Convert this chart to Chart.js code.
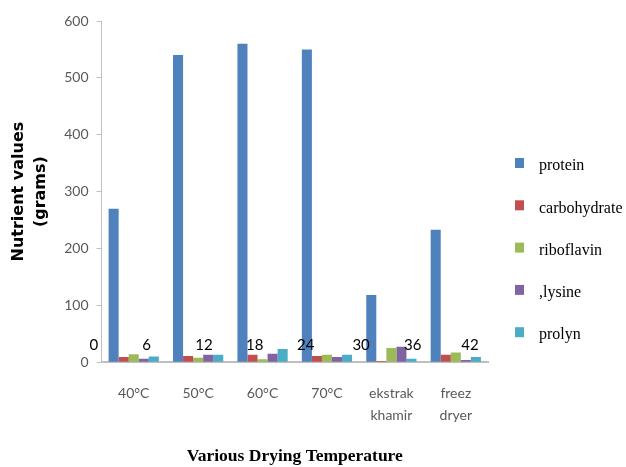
<!DOCTYPE html>
<html>
<head>
<meta charset="utf-8">
<script src="https://cdn.jsdelivr.net/npm/chart.js@4.4.1/dist/chart.umd.min.js"></script>
<style>
  html, body { margin: 0; padding: 0; background: #fff; }
  #wrap { width: 626px; height: 467px; }
</style>
</head>
<body>
<div id="wrap"><canvas id="nutrientChart" width="626" height="467"></canvas></div>
<script>
// categories and series
const categories = [['40°C'], ['50°C'], ['60°C'], ['70°C'], ['ekstrak', 'khamir'], ['freez', 'dryer']];
const protein = [270, 540, 560, 550, 118, 233];
const carbohydrate = [9, 11, 13, 11, 2, 13];
const riboflavin = [14, 8, 5, 13, 25, 17];
const lysine = [6, 13, 15, 9, 27, 4];
const prolyn = [10, 13, 23, 13, 6, 9];
const seriesNames = ['protein', 'carbohydrate', 'riboflavin', ',lysine', 'prolyn'];
const seriesColors = ['#4F81BD', '#C0504D', '#9BBB59', '#8064A2', '#4BACC6'];

// stray data labels floating over the bars (x in category units, y in grams)
const markerLabels = [0, 6, 12, 18, 24, 30, 36, 42];
const markerX = [-0.62, 0.20, 1.09, 1.88, 2.67, 3.53, 4.33, 5.22];
const markerLevel = 30;

const yMin = 0;
const yMax = 600;
const yStep = 100;

const tickColor = '#595959';
const axisColor = '#bfbfbf';

const barSets = [protein, carbohydrate, riboflavin, lysine, prolyn].map((values, i) => ({
  label: seriesNames[i],
  data: values,
  backgroundColor: seriesColors[i],
  borderWidth: 0,
}));

// the numbers are placed through the chart's own x and y scales
const markerText = {
  id: 'markerText',
  afterDatasetsDraw(chart) {
    const { x, y } = chart.scales;
    const ctx = chart.ctx;
    ctx.save();
    ctx.fillStyle = '#000';
    ctx.font = '15px Lato';
    ctx.textAlign = 'center';
    ctx.textBaseline = 'middle';
    markerLabels.forEach((v, i) => {
      ctx.fillText(String(v), x.getPixelForValue(markerX[i]), y.getPixelForValue(markerLevel));
    });
    ctx.restore();
  },
};

// legend drawn by hand so it can sit where the original put it
const sideLegend = {
  id: 'sideLegend',
  afterDraw(chart) {
    const ctx = chart.ctx;
    ctx.save();
    ctx.font = '16px "Liberation Serif"';
    ctx.textBaseline = 'middle';
    barSets.forEach((ds, i) => {
      const y = 163 + i * 42.3;
      ctx.fillStyle = ds.backgroundColor;
      ctx.fillRect(515, y - 5, 9, 10);
      ctx.fillStyle = '#000';
      ctx.fillText(ds.label, 539, y + 3);
    });
    ctx.restore();
  },
};

new Chart(document.getElementById('nutrientChart'), {
  type: 'bar',
  data: {
    labels: categories,
    datasets: barSets,
  },
  options: {
    responsive: false,
    animation: false,
    devicePixelRatio: 1,
    layout: { padding: { top: 21, left: 8, right: 138, bottom: 0 } },
    datasets: {
      bar: { categoryPercentage: 0.78, barPercentage: 1 },
    },
    plugins: {
      legend: { display: false },
      tooltip: { enabled: false },
    },
    scales: {
      x: {
        grid: { display: false },
        border: { display: true, color: axisColor, width: 2 },
        ticks: {
          color: tickColor,
          font: { family: 'Lato', size: 14, lineHeight: 1.6 },
          padding: 12,
          maxRotation: 0,
          autoSkip: false,
        },
        title: {
          display: true,
          text: 'Various Drying Temperature',
          color: '#000',
          font: { family: 'Liberation Serif', weight: 'bold', size: 17.5 },
          padding: { top: 7, bottom: 0 },
        },
      },
      y: {
        min: yMin,
        max: yMax,
        ticks: {
          stepSize: yStep,
          color: tickColor,
          font: { family: 'Lato', size: 14 },
          padding: 8,
        },
        grid: { drawOnChartArea: false, tickLength: 5, color: axisColor },
        border: { color: axisColor, width: 1 },
        title: {
          display: true,
          text: ['Nutrient values', '(grams)'],
          color: '#000',
          font: { family: 'DejaVu Sans', weight: 'bold', size: 16, lineHeight: 1.38 },
          padding: { top: 0, bottom: 4 },
        },
      },
    },
  },
  plugins: [markerText, sideLegend],
});
</script>
</body>
</html>
